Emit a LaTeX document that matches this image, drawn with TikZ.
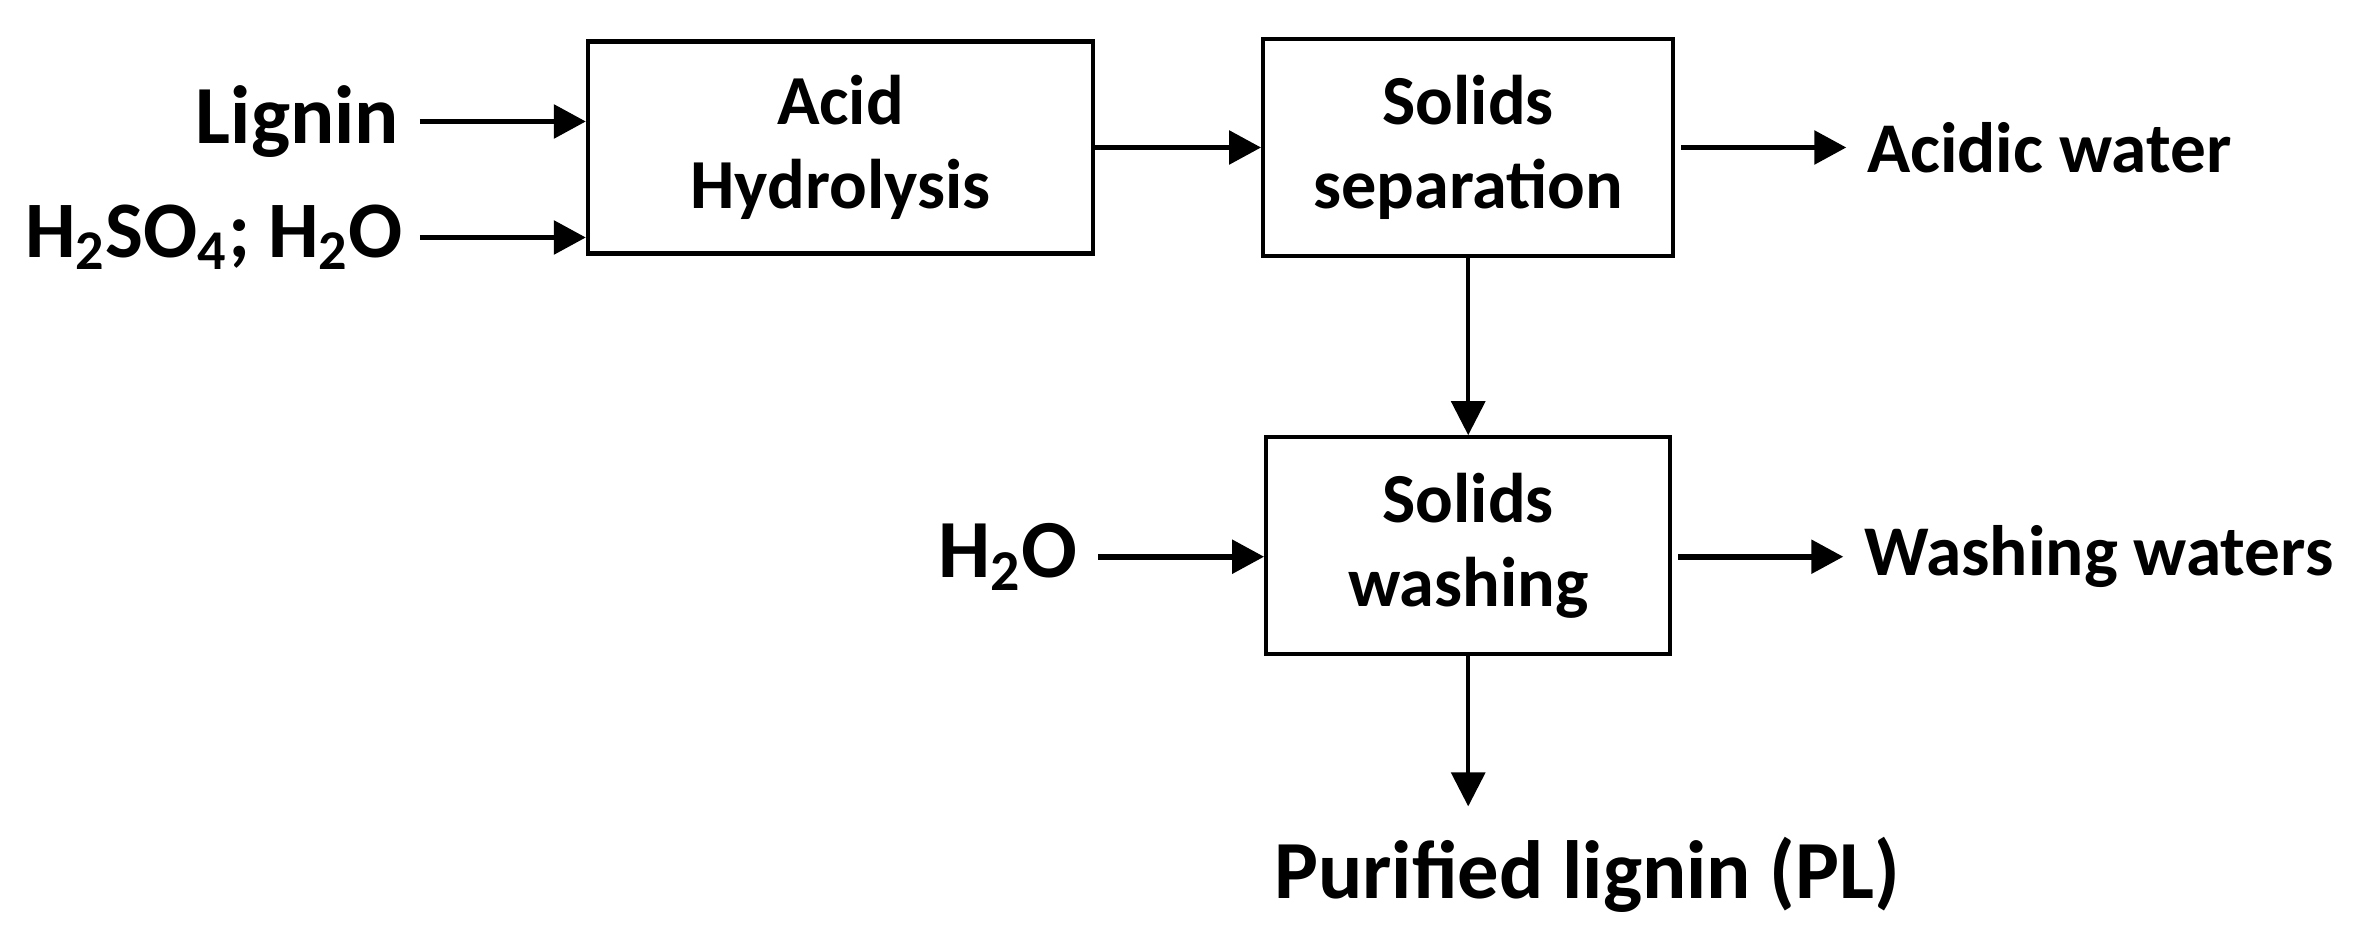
\documentclass[tikz,border=0pt]{standalone}
\usepackage{fontspec}
\setmainfont{Carlito}
\usetikzlibrary{positioning, arrows.meta, calc}

\begin{document}
\begin{tikzpicture}[-,
		proc/.style={rectangle, draw, line width=1.2pt, align=center, font=\fontsize{20}{24}\selectfont\bfseries},
		lbl/.style={inner xsep=0.2cm, font=\fontsize{20.3}{24}\selectfont\bfseries},
		biglbl/.style={inner xsep=0.2cm, font=\fontsize{23.5}{27}\selectfont\bfseries},
		flow/.style={-{Triangle[length=3.2mm, width=3.3mm]}, line width=1.6pt},
		drop/.style={-{Triangle[length=3.4mm, width=3.4mm]}, line width=1pt}]
			\useasboundingbox (0,0) rectangle (23.64,-9.42);
			\node[proc, minimum width=5.05cm, minimum height=2.12cm] (ah) at (8.405,-1.475) {Acid\\Hydrolysis};
			\node[proc, minimum width=4.1cm, minimum height=2.17cm, right = 1.66cm of ah] (ss) {Solids\\separation};
			\node[proc, minimum width=4.04cm, minimum height=2.17cm, below = 1.77cm of ss] (sw) {Solids\\washing};
			\node[biglbl, anchor=east] (lig) at ($(ah.west)+(-1.66,0.26)$) {Lignin};
			\node[biglbl, inner xsep=0.16cm, font=\fontsize{22.8}{27}\selectfont\bfseries, anchor=east] (acid) at ($(ah.west)+(-1.66,-0.9)$) {H\textsubscript{2}SO\textsubscript{4}; H\textsubscript{2}O};
			\node[lbl, anchor=west] (aw) at ($(ss.east)+(1.71,0)$) {Acidic water};
			\node[biglbl, anchor=east] (wat) at ($(sw.west)+(-1.66,-0.11)$) {H\textsubscript{2}O};
			\node[lbl, anchor=west] (ww) at ($(sw.east)+(1.71,-0.11)$) {Washing waters};
			\node[biglbl, inner ysep=0.3cm, below = 1.5cm of sw, xshift=1.19cm] (pl) {Purified lignin (PL)};
			
			\draw[flow] (lig.east) -- (lig.east -| ah.west);
			\draw[flow] (acid.east) -- (acid.east -| ah.west);
			\draw[flow] (ah.east) -- (ah.east -| ss.west);
			\draw[flow, shorten <=0.06cm] (aw.west -| ss.east) -- (aw.west);
			\draw[drop] (ss.south) -- (sw.north);
			\draw[flow] (wat.east) -- (wat.east -| sw.west);
			\draw[flow, shorten <=0.06cm] (ww.west -| sw.east) -- (ww.west);
			\draw[drop] (sw.south) -- (sw.south |- pl.north);
			
		\end{tikzpicture}
\end{document}
